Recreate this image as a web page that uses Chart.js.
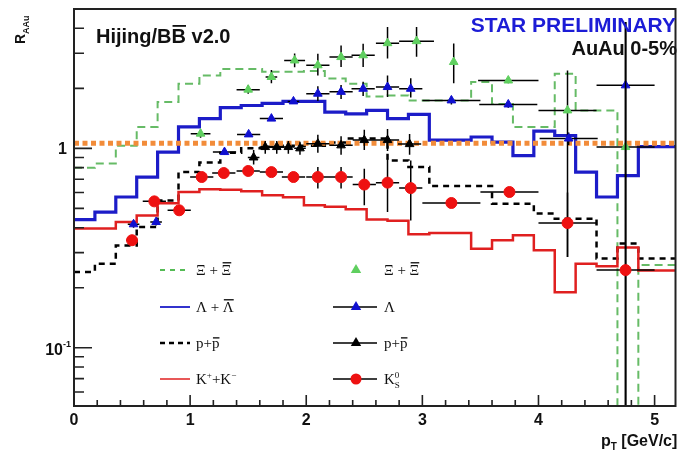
<!DOCTYPE html>
<html>
<head>
<meta charset="utf-8">
<script src="https://cdn.jsdelivr.net/npm/chart.js@4.4.1/dist/chart.umd.min.js"></script>
<style>
  html, body { margin: 0; padding: 0; background: #fff; }
  #wrap { width: 682px; height: 454px; }
</style>
</head>
<body>
<div id="wrap"><canvas id="chart" width="682" height="454"></canvas></div>
<script>
// Hijing/BB v2.0 histogram bin edges (GeV/c)
const binEdges = [0, 0.18, 0.36, 0.54, 0.72, 0.90, 1.08, 1.26, 1.44, 1.62, 1.80, 1.98, 2.16, 2.34, 2.52,
                  2.70, 2.88, 3.06, 3.24, 3.42, 3.60, 3.78, 3.96, 4.14, 4.32, 4.50, 4.68, 4.86, 5.04, 5.22];

// Hijing curves, one value per bin
const xiHist   = [0.80, 0.84, 1.03, 1.28, 1.71, 2.11, 2.32, 2.50, 2.50, 2.42, 2.42, 2.44, 2.24, 2.11, 1.82,
                  1.84, 1.74, 1.74, 1.74, 2.15, 1.67, 1.28, 1.28, 2.37, 1.55, 1.55, 0.01, 0.26, 0.26];
const lamHist  = [0.439, 0.479, 0.570, 0.718, 0.958, 1.28, 1.41, 1.60, 1.64, 1.68, 1.72, 1.72, 1.52, 1.49, 1.55,
                  1.41, 1.48, 1.10, 1.10, 1.14, 1.075, 0.92, 1.22, 1.16, 0.76, 0.57, 0.73, 1.02, 1.02];
const protHist = [0.24, 0.264, 0.326, 0.403, 0.548, 0.76, 0.848, 0.95, 1.0, 1.02, 1.03, 1.03, 1.07, 1.12, 1.12,
                  0.87, 0.806, 0.647, 0.647, 0.647, 0.528, 0.528, 0.471, 0.444, 0.444, 0.28, 0.333, 0.28, 0.28];
const kaonHist = [0.396, 0.396, 0.427, 0.461, 0.53, 0.604, 0.623, 0.62, 0.609, 0.581, 0.568, 0.518, 0.509, 0.495, 0.44,
                  0.433, 0.371, 0.376, 0.376, 0.314, 0.346, 0.366, 0.308, 0.190, 0.264, 0.256, 0.318, 0.244, 0.244];

// STAR data points
const xiPt   = [1.09, 1.50, 1.70, 1.90, 2.10, 2.30, 2.49, 2.70, 2.95, 3.27, 3.74, 4.25, 4.75];
const xiVal  = [1.185, 1.97, 2.28, 2.76, 2.61, 2.87, 2.93, 3.37, 3.45, 2.71, 2.19, 1.55, 1.015];
const xiXerr = [0.085, 0.10, 0.05, 0.09, 0.10, 0.10, 0.10, 0.10, 0.15, 0, 0.26, 0.25, 0.25];
const xiLo   = [1.13, 1.88, 2.12, 2.55, 2.32, 2.56, 2.56, 2.82, 2.88, 2.12, 2.12, 0.285, 0.01];
const xiHi   = [1.24, 2.07, 2.47, 2.99, 2.98, 3.28, 3.35, 4.06, 4.06, 3.36, 2.26, 2.46, 4.3];

const lamPt   = [0.513, 0.707, 1.296, 1.504, 1.70, 1.89, 2.10, 2.30, 2.49, 2.70, 2.90, 3.25, 3.74, 4.26, 4.75];
const lamVal  = [0.416, 0.427, 0.958, 1.175, 1.41, 1.72, 1.88, 1.92, 1.99, 2.03, 1.99, 1.74, 1.66, 1.12, 2.07];
const lamXerr = [0.05, 0.05, 0.10, 0.10, 0.10, 0.05, 0.10, 0.10, 0.10, 0.10, 0.10, 0.25, 0.25, 0.25, 0.25];
const lamLo   = [0.40, 0.41, 0.93, 1.14, 1.37, 1.67, 1.73, 1.77, 1.83, 1.81, 1.80, 1.66, 1.60, 1.04, 0.01];
const lamHi   = [0.43, 0.44, 0.99, 1.21, 1.45, 1.77, 2.05, 2.08, 2.16, 2.32, 2.25, 1.82, 1.72, 1.20, 4.3];

const protPt   = [1.547, 1.647, 1.746, 1.846, 1.946, 2.10, 2.30, 2.50, 2.70, 2.89];
const protVal  = [0.90, 1.015, 1.015, 1.015, 1.0, 1.055, 1.035, 1.10, 1.10, 1.05];
const protXerr = [0.05, 0.05, 0.05, 0.05, 0.05, 0.10, 0.10, 0.10, 0.10, 0.10];
const protLo   = [0.83, 0.94, 0.94, 0.94, 0.93, 0.95, 0.93, 0.98, 0.97, 0.93];
const protHi   = [0.98, 1.09, 1.09, 1.09, 1.08, 1.17, 1.15, 1.24, 1.25, 1.18];

const k0Pt   = [0.50, 0.692, 0.906, 1.10, 1.29, 1.50, 1.70, 1.89, 2.10, 2.30, 2.50, 2.70, 2.90, 3.25, 3.75, 4.25, 4.75];
const k0Val  = [0.346, 0.542, 0.489, 0.718, 0.752, 0.77, 0.76, 0.718, 0.718, 0.718, 0.658, 0.673, 0.632, 0.532, 0.604, 0.422, 0.245];
const k0Xerr = [0.05, 0.10, 0.10, 0.10, 0.10, 0.10, 0.10, 0.10, 0.10, 0.10, 0.10, 0.10, 0.10, 0.25, 0.25, 0.25, 0.25];
const k0Lo   = [0.33, 0.52, 0.47, 0.69, 0.725, 0.745, 0.735, 0.69, 0.628, 0.628, 0.518, 0.48, 0.435, 0.51, 0.58, 0.285, 0.01];
const k0Hi   = [0.36, 0.565, 0.51, 0.745, 0.78, 0.795, 0.785, 0.745, 0.806, 0.806, 0.79, 0.89, 0.87, 0.555, 0.63, 0.60, 4.3];

const refLine = 1.06;

// axis ticks
const xMajor = [0, 1, 2, 3, 4, 5];
const xMinor = [0.2, 0.4, 0.6, 0.8, 1.2, 1.4, 1.6, 1.8, 2.2, 2.4, 2.6, 2.8, 3.2, 3.4, 3.6, 3.8, 4.2, 4.4, 4.6, 4.8];
const yMajor = [0.1, 1];
const yMinor = [0.06, 0.07, 0.08, 0.09, 0.2, 0.3, 0.4, 0.5, 0.6, 0.7, 0.8, 0.9, 2, 3, 4];

const SANS = '"Liberation Sans", Arial, sans-serif';
const SERIF = '"Liberation Serif", "Times New Roman", serif';

function histPoints(vals) {
    const pts = vals.map((v, i) => ({ x: binEdges[i], y: v }));
    pts.push({ x: binEdges[vals.length], y: vals[vals.length - 1] });
    return pts;
}

function histSet(label, vals, color, width, dash) {
    return {
        type: 'line', label: label, data: histPoints(vals), stepped: true,
        borderColor: color, borderWidth: width, borderDash: dash,
        pointRadius: 0, fill: false
    };
}

function pointSet(label, xs, vs, color, style, r) {
    return {
        type: 'scatter', label: label, data: xs.map((x, i) => ({ x: x, y: vs[i] })),
        showLine: false, pointStyle: style, pointRadius: r,
        pointBackgroundColor: color, pointBorderColor: color, pointBorderWidth: 1
    };
}

// error bars per dataset index
const errorBars = {
    0: { x: k0Pt, v: k0Val, xe: k0Xerr, lo: k0Lo, hi: k0Hi },
    1: { x: protPt, v: protVal, xe: protXerr, lo: protLo, hi: protHi },
    2: { x: lamPt, v: lamVal, xe: lamXerr, lo: lamLo, hi: lamHi },
    3: { x: xiPt, v: xiVal, xe: xiXerr, lo: xiLo, hi: xiHi }
};

// text with optional overbar / sup / sub pieces
function richText(ctx, x, y, parts, size, family, weight) {
    let cx = x;
    parts.forEach(p => {
        const s = (p.sup || p.sub) ? Math.round(size * 0.62) : size;
        ctx.font = (weight || '') + ' ' + s + 'px ' + family;
        const dy = p.sup ? -size * 0.40 : (p.sub ? size * 0.28 : 0);
        ctx.fillText(p.t, cx, y + dy);
        const w = ctx.measureText(p.t).width;
        if (p.bar) ctx.fillRect(cx + 1, y + dy - size * (p.barH || 0.86), w - 1, Math.max(1.2, size * 0.09));
        if (!p.stack) cx += w;
    });
    return cx;
}

function triangle(ctx, x, y, r, color) {
    ctx.fillStyle = color;
    ctx.beginPath();
    ctx.moveTo(x, y - r);
    ctx.lineTo(x + r * 0.87, y + r * 0.5);
    ctx.lineTo(x - r * 0.87, y + r * 0.5);
    ctx.closePath();
    ctx.fill();
}

const decor = {
    id: 'decor',
    beforeDatasetDraw(chart, args) {
        const bars = errorBars[args.index];
        if (!bars) return;
        const ctx = chart.ctx, a = chart.chartArea, xs = chart.scales.x, ys = chart.scales.y;
        ctx.save();
        ctx.beginPath();
        ctx.rect(a.left, a.top, a.right - a.left, a.bottom - a.top);
        ctx.clip();
        ctx.strokeStyle = '#000';
        ctx.lineWidth = 1.5;
        ctx.beginPath();
        bars.x.forEach((xv, i) => {
            const px = xs.getPixelForValue(xv), py = ys.getPixelForValue(bars.v[i]);
            if (bars.xe[i] > 0) {
                ctx.moveTo(xs.getPixelForValue(xv - bars.xe[i]), py);
                ctx.lineTo(xs.getPixelForValue(xv + bars.xe[i]), py);
            }
            ctx.moveTo(px, ys.getPixelForValue(bars.lo[i]));
            ctx.lineTo(px, ys.getPixelForValue(bars.hi[i]));
        });
        ctx.stroke();
        ctx.restore();
    },
    afterDraw(chart) {
        const ctx = chart.ctx, a = chart.chartArea, xs = chart.scales.x, ys = chart.scales.y;
        ctx.save();

        // frame
        ctx.strokeStyle = '#222';
        ctx.lineWidth = 2;
        ctx.strokeRect(a.left, a.top, a.right - a.left, a.bottom - a.top);

        // ticks, drawn inside the frame
        ctx.lineWidth = 1.6;
        ctx.beginPath();
        xMajor.forEach(v => { const p = xs.getPixelForValue(v); ctx.moveTo(p, a.bottom); ctx.lineTo(p, a.bottom - 11); });
        xMinor.forEach(v => { const p = xs.getPixelForValue(v); ctx.moveTo(p, a.bottom); ctx.lineTo(p, a.bottom - 6); });
        yMajor.forEach(v => { const p = ys.getPixelForValue(v); ctx.moveTo(a.left, p); ctx.lineTo(a.left + 18, p); });
        yMinor.forEach(v => { const p = ys.getPixelForValue(v); ctx.moveTo(a.left, p); ctx.lineTo(a.left + 10, p); });
        ctx.stroke();

        // tick labels
        ctx.fillStyle = '#111';
        ctx.font = 'bold 16px ' + SANS;
        ctx.textBaseline = 'alphabetic';
        ctx.textAlign = 'center';
        xMajor.forEach(v => ctx.fillText(String(v), xs.getPixelForValue(v), a.bottom + 19));
        ctx.textAlign = 'right';
        ctx.fillText('1', a.left - 7, ys.getPixelForValue(1) + 6);
        const y01 = ys.getPixelForValue(0.1);
        ctx.fillText('10', a.left - 11, y01 + 7);
        ctx.textAlign = 'left';
        ctx.font = 'bold 9px ' + SANS;
        ctx.fillText('-1', a.left - 11, y01 - 1);

        // axis titles
        ctx.textAlign = 'left';
        richText(ctx, 601, 446, [{ t: 'p' }, { t: 'T', sub: true }, { t: ' [GeV/c]' }], 16, SANS, 'bold');
        ctx.save();
        ctx.translate(25, 44);
        ctx.rotate(-Math.PI / 2);
        richText(ctx, 0, 0, [{ t: 'R' }, { t: 'AAu', sub: true }], 14, SANS, 'bold');
        ctx.restore();

        // labels in the frame
        ctx.fillStyle = '#111';
        richText(ctx, 96, 43, [{ t: 'Hijing/B' }, { t: 'B', bar: true, barH: 0.9 }, { t: ' v2.0' }], 20, SANS, 'bold');
        ctx.textAlign = 'right';
        ctx.fillStyle = '#1c1cd6';
        ctx.font = 'bold 21px ' + SANS;
        ctx.fillText('STAR PRELIMINARY', 676, 32);
        ctx.fillStyle = '#111';
        ctx.font = 'bold 20px ' + SANS;
        ctx.fillText('AuAu 0-5%', 677, 55);
        ctx.textAlign = 'left';

        // legend
        const rows = [270, 307, 343, 379];
        const leftLines = [
            { c: '#55bb55', w: 2, d: [5, 5] },
            { c: '#1c1cc8', w: 1.8, d: [] },
            { c: '#000', w: 2.5, d: [5, 4] },
            { c: '#e02020', w: 1.5, d: [] }
        ];
        leftLines.forEach((s, i) => {
            ctx.strokeStyle = s.c;
            ctx.lineWidth = s.w;
            ctx.setLineDash(s.d);
            ctx.beginPath();
            ctx.moveTo(160, rows[i]);
            ctx.lineTo(190, rows[i]);
            ctx.stroke();
        });
        ctx.setLineDash([]);
        ctx.strokeStyle = '#000';
        ctx.lineWidth = 1.5;
        ctx.beginPath();
        for (let i = 1; i < 4; i++) { ctx.moveTo(333, rows[i]); ctx.lineTo(377, rows[i]); }
        ctx.stroke();
        triangle(ctx, 356, rows[0], 6, '#5fcf5f');
        triangle(ctx, 356, rows[1], 6, '#1010d0');
        triangle(ctx, 356, rows[2], 6, '#000');
        ctx.fillStyle = '#ee1111';
        ctx.beginPath();
        ctx.arc(356, rows[3], 5.5, 0, Math.PI * 2);
        ctx.fill();

        ctx.fillStyle = '#111';
        const ls = 15;
        richText(ctx, 196, rows[0] + 5, [{ t: 'Ξ + ' }, { t: 'Ξ', bar: true }], ls, SERIF);
        richText(ctx, 196, rows[1] + 5, [{ t: 'Λ + ' }, { t: 'Λ', bar: true }], ls, SERIF);
        richText(ctx, 196, rows[2] + 5, [{ t: 'p+' }, { t: 'p', bar: true, barH: 0.72 }], ls, SERIF);
        richText(ctx, 196, rows[3] + 5, [{ t: 'K' }, { t: '+', sup: true }, { t: '+K' }, { t: '−', sup: true }], ls, SERIF);
        richText(ctx, 384, rows[0] + 5, [{ t: 'Ξ + ' }, { t: 'Ξ', bar: true }], ls, SERIF);
        richText(ctx, 384, rows[1] + 5, [{ t: 'Λ' }], ls, SERIF);
        richText(ctx, 384, rows[2] + 5, [{ t: 'p+' }, { t: 'p', bar: true, barH: 0.72 }], ls, SERIF);
        richText(ctx, 384, rows[3] + 5, [{ t: 'K' }, { t: '0', sup: true, stack: true }, { t: 'S', sub: true }], ls, SERIF);

        ctx.restore();
    }
};

new Chart(document.getElementById('chart'), {
    type: 'scatter',
    data: {
        datasets: [
            pointSet('K0s', k0Pt, k0Val, '#ee1111', 'circle', 5.5),
            pointSet('p+pbar data', protPt, protVal, '#000000', 'triangle', 5),
            pointSet('Lambda data', lamPt, lamVal, '#1010d0', 'triangle', 5),
            pointSet('Xi data', xiPt, xiVal, '#5fcf5f', 'triangle', 5),
            {
                type: 'line', label: 'ref', data: [{ x: 0, y: refLine }, { x: 5.18, y: refLine }],
                borderColor: '#f28c3a', borderWidth: 5, borderDash: [5, 3.5], pointRadius: 0
            },
            histSet('K+K', kaonHist, '#e02020', 2.5, []),
            histSet('p+pbar', protHist, '#000000', 2.5, [6, 5]),
            histSet('Lambda+Lambdabar', lamHist, '#1c1cc8', 3.2, []),
            histSet('Xi+Xibar', xiHist, '#66bb66', 2, [8, 5])
        ]
    },
    options: {
        responsive: false,
        animation: false,
        layout: { padding: { left: 74, right: 2, top: 9, bottom: 48 } },
        scales: {
            x: { type: 'linear', display: false, min: 0, max: 5.18 },
            y: { type: 'logarithmic', display: false, min: 0.051, max: 5 }
        },
        plugins: {
            legend: { display: false },
            tooltip: { enabled: false }
        }
    },
    plugins: [decor]
});
</script>
</body>
</html>
